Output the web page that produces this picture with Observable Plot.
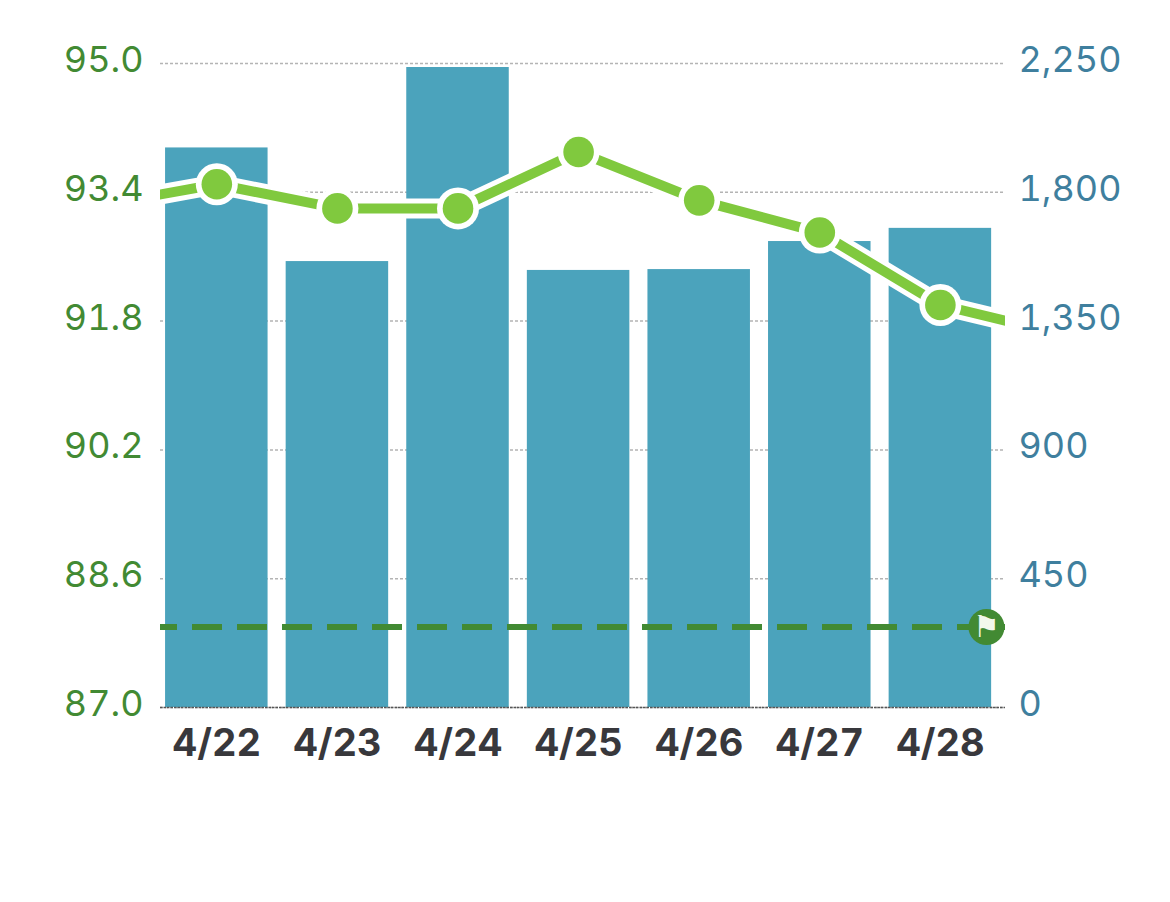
<!DOCTYPE html>
<html><head><meta charset="utf-8">
<script src="https://cdn.jsdelivr.net/npm/d3@7"></script>
<script src="https://cdn.jsdelivr.net/npm/@observablehq/plot@0.6"></script>
<style>html,body{margin:0;background:#fff}svg{display:block}</style>
</head><body><div id="chart"></div>
<script>
const dates = ["4/22","4/23","4/24","4/25","4/26","4/27","4/28"];
const days = [0,1,2,3,4,5,6];
const barValues = [1955,1558,2236,1527,1530,1628,1674];
const lineValues = [93.5,93.2,93.2,93.9,93.3,92.9,92.0];
const lineDays = [-1,0,1,2,3,4,5,6,7];
const lineExtended = [93.23,93.5,93.2,93.2,93.9,93.3,92.9,92.0,91.64];
const leftTicks = [87,88.6,90.2,91.8,93.4,95];
const rightLabels = ["0","450","900","1,350","1,800","2,250"];
const goal = 88;
const flagDay = 6.382;
const toLeft = v => 87 + v / 2250 * 8;
const bars = days.map(i => ({i, v: toLeft(barValues[i])}));
const pts = days.map(i => ({i, v: lineValues[i]}));
const ext = lineDays.map((i,k) => ({i, v: lineExtended[k]}));
const font = "Inter, 'Liberation Sans', sans-serif";
const cGreen="#80c93e", cBar="#4ba3bc", cText="#428a33", cRight="#3f7f9e", cDark="#38383c";

const plot = Plot.plot({
  width:1170, height:902,
  marginLeft:160, marginRight:165, marginTop:63, marginBottom:195,
  style:{background:"#fff", fontFamily:font},
  x:{type:"linear", domain:[-0.467,6.54], axis:null},
  y:{domain:[87,95], axis:null},
  marks:[
    Plot.ruleY(leftTicks,{stroke:"#b4b4b4", strokeWidth:1.5, strokeDasharray:"3 2"}),
    Plot.rectY(bars,{x1:d=>d.i-0.425,x2:d=>d.i+0.425,y1:87,y2:"v",fill:cBar}),
    Plot.ruleY([87],{stroke:"#555", strokeWidth:1.3, strokeDasharray:"2.5 1"}),
    Plot.ruleY([goal],{stroke:cText, strokeWidth:6, strokeDasharray:"30 15", strokeDashoffset:13}),
    Plot.line(ext,{x:"i",y:"v",stroke:"#fff",strokeWidth:20,clip:"frame",curve:"linear"}),
    Plot.line(ext,{x:"i",y:"v",stroke:cGreen,strokeWidth:10,clip:"frame",curve:"linear"}),
    Plot.dot(pts,{x:"i",y:"v",r:21,fill:"#fff"}),
    Plot.dot(pts,{x:"i",y:"v",r:15.3,fill:cGreen}),
    Plot.dot([{i:flagDay,v:goal}],{x:"i",y:"v",r:18,fill:cText}),
    Plot.text([{i:flagDay,v:goal}],{x:"i",y:"v",text:()=>"\u2691",fill:"#f2f8ec",fontSize:30,fontFamily:"DejaVu Sans"}),
    Plot.axisY(leftTicks,{anchor:"left",label:null,tickSize:0,tickPadding:17,tickFormat:d=>d.toFixed(1),fontSize:36,fill:cText,dy:-3}),
    Plot.axisY(leftTicks,{anchor:"right",label:null,tickSize:0,tickPadding:13,tickFormat:(d,k)=>rightLabels[k],fontSize:36,fill:cRight,dy:-3}),
    Plot.axisX(days,{anchor:"bottom",label:null,tickSize:0,tickPadding:22,tickFormat:(d,k)=>dates[k],fontSize:38,fontWeight:700,fill:cDark})
  ]
});
document.getElementById("chart").append(plot);
</script></body></html>
